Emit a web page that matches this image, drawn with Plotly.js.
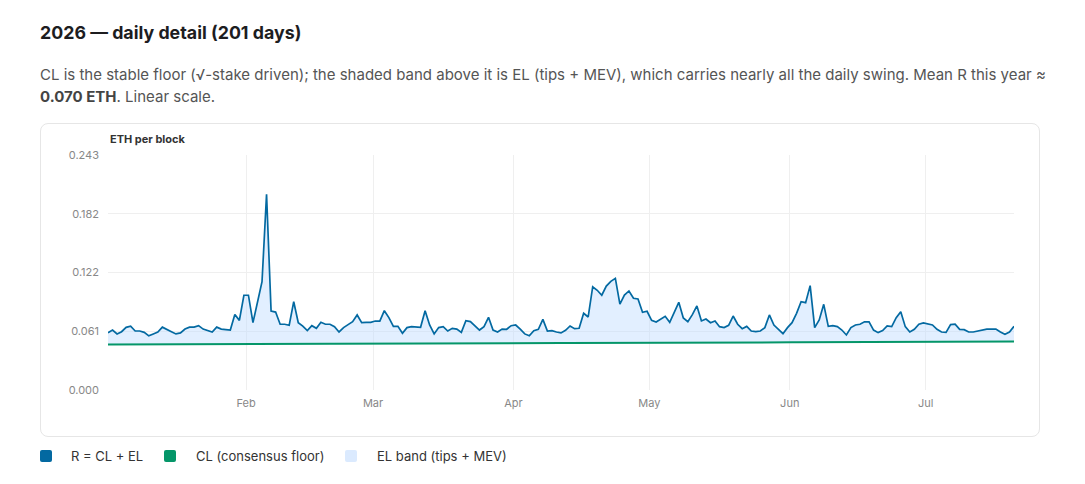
<!DOCTYPE html>
<html>
<head>
<meta charset="utf-8">
<script src="https://cdn.plot.ly/plotly-3.0.1.min.js"></script>
<style>
  html, body { margin: 0; padding: 0; background: #ffffff; }
  body { width: 1085px; height: 484px; position: relative; overflow: hidden; font-family: Inter, "Noto Sans", "Liberation Sans", sans-serif; }
  #title { position: absolute; left: 40px; top: 22px; margin: 0; font-size: 17.8px; line-height: 22px; font-weight: 700; color: #1d1d1f; }
  #sub { position: absolute; left: 40px; top: 64px; width: 1015px; margin: 0; font-size: 15px; line-height: 22px; color: #555; }
  #sub b { color: #444; font-weight: 700; }
  #card { position: absolute; left: 40px; top: 123px; width: 998px; height: 312px; border: 1px solid #e6e6e6; border-radius: 8px; background: #fff; }
  #chart { position: absolute; left: 0; top: 0; width: 998px; height: 312px; }
  #legend { position: absolute; left: 40px; top: 446px; height: 20px; font-size: 13px; color: #333; }
  .li { position: absolute; top: 0; white-space: nowrap; line-height: 20px; }
  .sw { position: absolute; top: 4px; width: 12px; height: 12px; border-radius: 2px; }
  .lt { position: absolute; top: 0; }
</style>
</head>
<body>
<h2 id="title">2026 — daily detail (201 days)</h2>
<p id="sub">CL is the stable floor (√-stake driven); the shaded band above it is EL (tips + MEV), which carries nearly all the daily swing. Mean R this year ≈ <b>0.070&nbsp;ETH</b>. Linear scale.</p>
<div id="card"><div id="chart"></div></div>
<div id="legend">
  <div class="li" style="left:0px"><span class="sw" style="left:0;background:#0369a1"></span><span class="lt" style="left:31px">R = CL + EL</span></div>
  <div class="li" style="left:124px"><span class="sw" style="left:0;background:#059669"></span><span class="lt" style="left:32px">CL (consensus floor)</span></div>
  <div class="li" style="left:305px"><span class="sw" style="left:0;background:#dbeafe"></span><span class="lt" style="left:32px">EL band (tips + MEV)</span></div>
</div>
<script>
// ---- data ----
const startDate = '2026-01-01 12:00';
const nDays = 201;

// R = CL + EL, ETH per block, one value per day
const rValues = [
  0.0593,0.0620,0.0580,0.0603,0.0648,0.0660,0.0610,0.0610,0.0596,0.0560,
  0.0580,0.0600,0.0650,0.0630,0.0603,0.0580,0.0590,0.0630,0.0650,0.0650,
  0.0665,0.0630,0.0615,0.0600,0.0650,0.0630,0.0625,0.0620,0.0780,0.0720,
  0.0980,0.0980,0.0696,0.0900,0.1120,0.2024,0.0817,0.0806,0.0680,0.0680,
  0.0670,0.0913,0.0696,0.0660,0.0614,0.0665,0.0638,0.0700,0.0680,0.0680,
  0.0655,0.0600,0.0645,0.0676,0.0707,0.0776,0.0696,0.0700,0.0700,0.0713,
  0.0713,0.0820,0.0748,0.0658,0.0658,0.0586,0.0645,0.0655,0.0655,0.0648,
  0.0820,0.0672,0.0580,0.0645,0.0655,0.0610,0.0638,0.0630,0.0596,0.0717,
  0.0707,0.0662,0.0620,0.0655,0.0752,0.0620,0.0600,0.0630,0.0628,0.0665,
  0.0672,0.0630,0.0580,0.0560,0.0614,0.0628,0.0730,0.0610,0.0614,0.0600,
  0.0590,0.0617,0.0662,0.0634,0.0638,0.0793,0.0755,0.1068,0.1031,0.0980,
  0.1075,0.1124,0.1155,0.0889,0.0982,0.1024,0.0948,0.0941,0.0803,0.0814,
  0.0720,0.0703,0.0734,0.0762,0.0700,0.0796,0.0907,0.0745,0.0707,0.0779,
  0.0869,0.0714,0.0734,0.0696,0.0714,0.0655,0.0645,0.0669,0.0765,0.0680,
  0.0634,0.0658,0.0610,0.0603,0.0610,0.0645,0.0776,0.0672,0.0630,0.0582,
  0.0645,0.0696,0.0793,0.0913,0.0903,0.1079,0.0645,0.0724,0.0886,0.0658,
  0.0665,0.0655,0.0620,0.0569,0.0645,0.0672,0.0680,0.0705,0.0705,0.0620,
  0.0593,0.0614,0.0662,0.0655,0.0748,0.0810,0.0655,0.0600,0.0627,0.0680,
  0.0693,0.0686,0.0672,0.0627,0.0600,0.0596,0.0676,0.0680,0.0627,0.0624,
  0.0600,0.0600,0.0610,0.0614,0.0630,0.0630,0.0630,0.0600,0.0576,0.0600,
  0.0658
];

// CL consensus floor, ETH per block, one value per day
const clValues = [
  0.0470,0.0470,0.0470,0.0470,0.0470,0.0470,
  0.0471,0.0471,0.0471,0.0471,0.0471,0.0471,
  0.0472,0.0472,0.0472,0.0472,0.0472,0.0472,0.0472,
  0.0473,0.0473,0.0473,0.0473,0.0473,0.0473,
  0.0474,0.0474,0.0474,0.0474,0.0474,0.0474,
  0.0475,0.0475,0.0475,0.0475,0.0475,0.0475,0.0475,
  0.0476,0.0476,0.0476,0.0476,0.0476,0.0476,
  0.0477,0.0477,0.0477,0.0477,0.0477,0.0477,
  0.0478,0.0478,0.0478,0.0478,0.0478,0.0478,0.0478,
  0.0479,0.0479,0.0479,0.0479,0.0479,0.0479,
  0.0480,0.0480,0.0480,0.0480,0.0480,0.0480,
  0.0481,0.0481,0.0481,0.0481,0.0481,0.0481,0.0481,
  0.0482,0.0482,0.0482,0.0482,0.0482,0.0482,
  0.0483,0.0483,0.0483,0.0483,0.0483,0.0483,
  0.0484,0.0484,0.0484,0.0484,0.0484,0.0484,0.0484,
  0.0485,0.0485,0.0485,0.0485,0.0485,0.0485,
  0.0486,0.0486,0.0486,0.0486,0.0486,0.0486,
  0.0487,0.0487,0.0487,0.0487,0.0487,0.0487,0.0487,
  0.0488,0.0488,0.0488,0.0488,0.0488,0.0488,
  0.0489,0.0489,0.0489,0.0489,0.0489,0.0489,
  0.0490,0.0490,0.0490,0.0490,0.0490,0.0490,0.0490,
  0.0491,0.0491,0.0491,0.0491,0.0491,0.0491,
  0.0492,0.0492,0.0492,0.0492,0.0492,0.0492,
  0.0493,0.0493,0.0493,0.0493,0.0493,0.0493,0.0493,
  0.0494,0.0494,0.0494,0.0494,0.0494,0.0494,
  0.0495,0.0495,0.0495,0.0495,0.0495,0.0495,
  0.0496,0.0496,0.0496,0.0496,0.0496,0.0496,0.0496,
  0.0497,0.0497,0.0497,0.0497,0.0497,0.0497,
  0.0498,0.0498,0.0498,0.0498,0.0498,0.0498,
  0.0499,0.0499,0.0499,0.0499,0.0499,0.0499,0.0499,
  0.0500,0.0500,0.0500,0.0500,0.0500,0.0500,
  0.0501,0.0501,0.0501,0.0501,0.0501
];

const yTickVals = [0, 0.061, 0.122, 0.182, 0.243];
const yTickText = ['0.000', '0.061', '0.122', '0.182', '0.243'];
const yRange = [0, 0.243];
const seriesNames = ['R = CL + EL', 'CL (consensus floor)', 'EL band (tips + MEV)'];
const yAxisLabel = 'ETH per block';

// ---- build dates ----
const dates = [];
(function () {
  const base = new Date(startDate.replace(' ', 'T') + ':00Z');
  for (let i = 0; i < nDays; i++) {
    const d = new Date(base.getTime() + i * 86400000);
    dates.push(d.toISOString().slice(0, 16).replace('T', ' '));
  }
})();

const blue = '#0369a1';
const green = '#059669';

const traces = [
  {
    x: dates, y: clValues, type: 'scatter', mode: 'lines', name: seriesNames[1],
    line: { color: green, width: 2 }, hoverinfo: 'x+y', showlegend: false
  },
  {
    x: dates, y: rValues, type: 'scatter', mode: 'lines', name: seriesNames[0],
    line: { color: blue, width: 1.7 }, fill: 'tonexty',
    fillcolor: 'rgba(191,219,254,0.45)', hoverinfo: 'x+y', showlegend: false
  }
];

const layout = {
  width: 998, height: 312,
  margin: { l: 67, r: 25, t: 31, b: 46 },
  paper_bgcolor: 'rgba(0,0,0,0)', plot_bgcolor: '#ffffff',
  font: { family: 'Inter, "Noto Sans", sans-serif', size: 11, color: '#888' },
  showlegend: false,
  xaxis: {
    type: 'date', range: [dates[0], dates[dates.length - 1]],
    tick0: '2026-01-01', dtick: 'M1', tickformat: '%b',
    showgrid: true, gridcolor: '#efefef', gridwidth: 1,
    zeroline: false, showline: false, ticks: '',
    tickfont: { size: 11, color: '#888' }, ticklabelstandoff: 5
  },
  yaxis: {
    range: yRange, tickvals: yTickVals, ticktext: yTickText,
    showgrid: true, gridcolor: '#efefef', gridwidth: 1,
    zeroline: false, showline: false, ticks: '',
    tickfont: { size: 11, color: '#888' }, ticklabelstandoff: 8
  },
  annotations: [{
    text: '<b>' + yAxisLabel + '</b>', xref: 'paper', yref: 'paper',
    x: 0, y: 1, xanchor: 'left', yanchor: 'bottom', yshift: 7, showarrow: false,
    font: { size: 11, color: '#333', family: 'Inter, "Noto Sans", sans-serif' }
  }]
};

Plotly.newPlot('chart', traces, layout, { displayModeBar: false, staticPlot: true });
</script>
</body>
</html>
